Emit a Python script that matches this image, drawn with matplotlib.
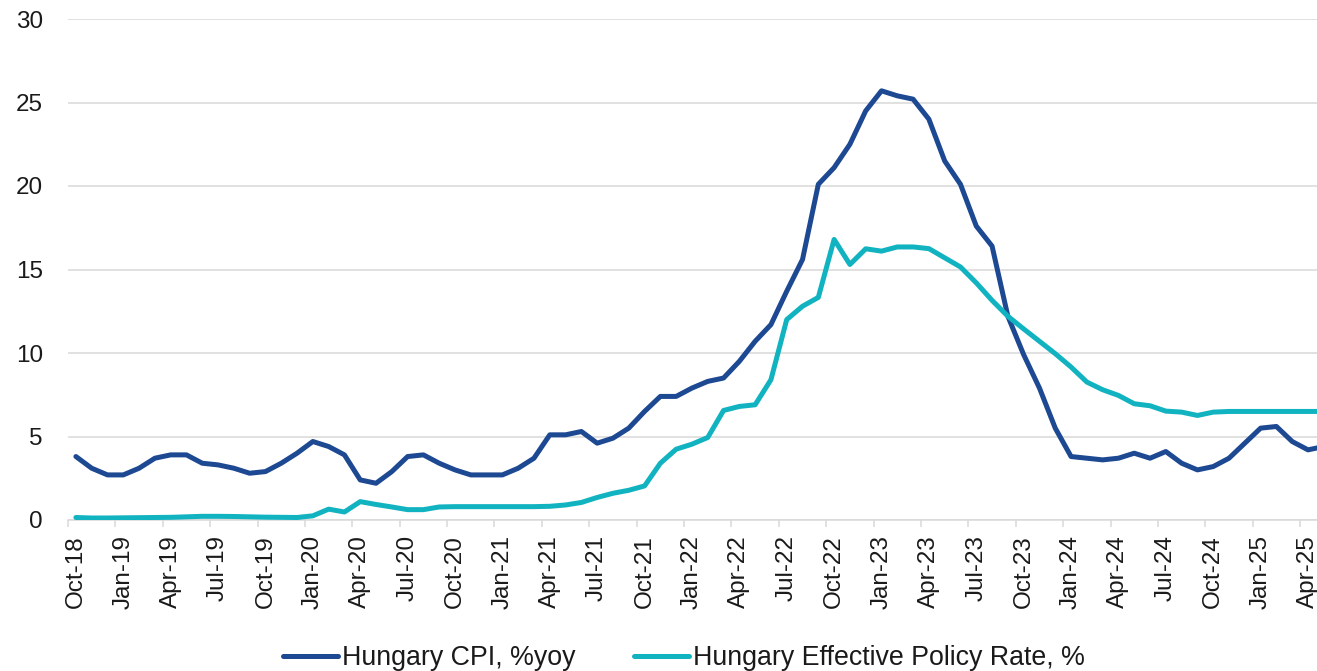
import matplotlib
matplotlib.use("Agg")

import matplotlib.pyplot as plt
import numpy as np
import pandas as pd

plt.rcParams["font.family"] = ["Liberation Sans", "DejaVu Sans"]

# Monthly categories, Oct-18 .. May-25 (last point is cut off at the right edge)
months = pd.date_range("2018-10-01", "2025-05-01", freq="MS")
month_labels = [m.strftime("%b-%y") for m in months]

cpi = [
    3.8, 3.1, 2.7, 2.7, 3.1, 3.7, 3.9, 3.9, 3.4, 3.3, 3.1, 2.8,
    2.9, 3.4, 4.0, 4.7, 4.4, 3.9, 2.4, 2.2, 2.9, 3.8, 3.9, 3.4,
    3.0, 2.7, 2.7, 2.7, 3.1, 3.7, 5.1, 5.1, 5.3, 4.6, 4.9, 5.5,
    6.5, 7.4, 7.4, 7.9, 8.3, 8.5, 9.5, 10.7, 11.7, 13.7, 15.6, 20.1,
    21.1, 22.5, 24.5, 25.7, 25.4, 25.2, 24.0, 21.5, 20.1, 17.6, 16.4, 12.2,
    9.9, 7.9, 5.5, 3.8, 3.7, 3.6, 3.7, 4.0, 3.7, 4.1, 3.4, 3.0,
    3.2, 3.7, 4.6, 5.5, 5.6, 4.7, 4.2, 4.4,
]

policy_rate = [
    0.15, 0.12, 0.12, 0.13, 0.14, 0.15, 0.16, 0.19, 0.22, 0.22, 0.21, 0.19,
    0.17, 0.16, 0.15, 0.25, 0.65, 0.48, 1.10, 0.93, 0.78, 0.62, 0.62, 0.78,
    0.80, 0.80, 0.80, 0.80, 0.80, 0.80, 0.82, 0.90, 1.05, 1.35, 1.60, 1.78,
    2.04, 3.40, 4.24, 4.54, 4.94, 6.56, 6.80, 6.90, 8.40, 12.0, 12.8, 13.33,
    16.8, 15.3, 16.24, 16.1, 16.35, 16.35, 16.25, 15.7, 15.15, 14.2, 13.15, 12.2,
    11.44, 10.7, 9.96, 9.16, 8.26, 7.8, 7.46, 6.96, 6.84, 6.52, 6.46, 6.26,
    6.46, 6.5, 6.5, 6.5, 6.5, 6.5, 6.5, 6.5,
]

CPI_COLOR = "#1d4892"
RATE_COLOR = "#12b3c0"
GRID_COLOR = "#d9d9d9"
TEXT_COLOR = "#1a1a1a"

fig = plt.figure(figsize=(13.17, 6.71), dpi=100)
ax = fig.add_axes([68 / 1317, 151 / 671, 1 - 68 / 1317, 501 / 671])

x = np.arange(len(months))
ax.plot(x, cpi, color=CPI_COLOR, lw=3.6, solid_joinstyle="round",
        solid_capstyle="round", label="Hungary CPI, %yoy", zorder=3)
ax.plot(x, policy_rate, color=RATE_COLOR, lw=3.6, solid_joinstyle="round",
        solid_capstyle="round", label="Hungary Effective Policy Rate, %", zorder=3)

ax.set_xlim(-0.5, 78.57)
ax.set_ylim(0, 30)

# labels on every third month, tick marks on the category boundaries
lab_pos = x[::3]
ax.set_xticks(lab_pos)
ax.set_xticklabels([month_labels[i] for i in lab_pos], rotation=90)
ax.set_xticks(lab_pos - 0.5, minor=True)
ax.tick_params(axis="x", which="major", length=0, pad=11,
               labelsize=17.5, labelcolor=TEXT_COLOR)
ax.tick_params(axis="x", which="minor", length=5, width=1.1,
               color=GRID_COLOR, direction="out")

ax.set_yticks(np.arange(0, 31, 5))
ax.tick_params(axis="y", length=0, pad=18, labelsize=17.5,
               labelcolor=TEXT_COLOR)

ax.grid(axis="y", color=GRID_COLOR, lw=1.1, zorder=0)
ax.set_axisbelow(True)
for side in ("left", "right", "top"):
    ax.spines[side].set_visible(False)
ax.spines["bottom"].set_color(GRID_COLOR)
ax.spines["bottom"].set_linewidth(1.1)

leg = fig.legend(loc="center", bbox_to_anchor=(684 / 1317, 13 / 671),
                 ncol=2, frameon=False, fontsize=19.3, handlelength=2.05,
                 handletextpad=0.18, columnspacing=2.15, borderpad=0)
for t in leg.get_texts():
    t.set_color(TEXT_COLOR)

fig.savefig("out.png", dpi=100)
